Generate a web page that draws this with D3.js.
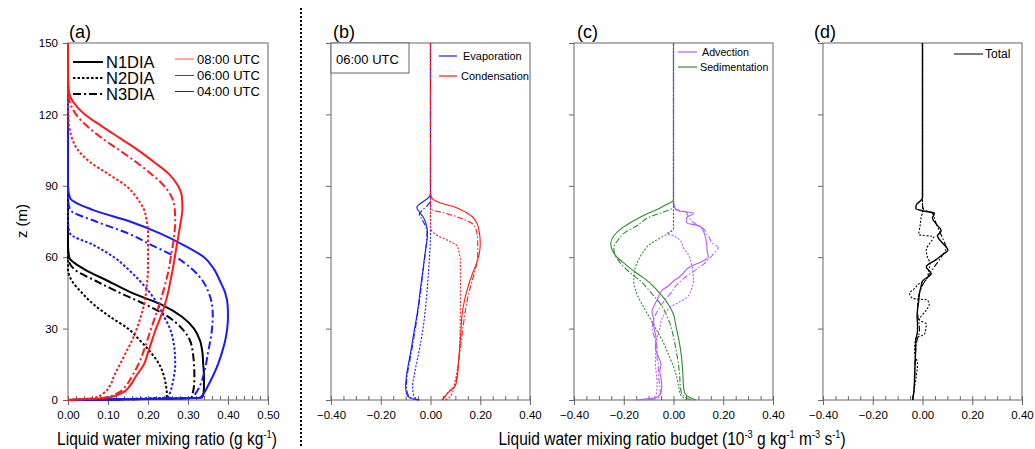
<!DOCTYPE html>
<html>
<head>
<meta charset="utf-8">
<script src="https://cdn.jsdelivr.net/npm/d3@7"></script>
<style>
body{margin:0;background:#fff;}
text{font-family:"Liberation Sans",Arial,sans-serif;fill:#000;}
</style>
</head>
<body>
<svg id="fig" width="1035" height="449"></svg>
<script>
// ---- data ----
// panel (a): liquid water mixing ratio (g/kg) on common heights
var zA = [0, 1, 3, 6, 10, 15, 20, 25, 30, 35, 40, 45, 50, 55, 60, 65, 70, 75, 80, 85, 90, 95, 100, 105, 110, 115, 120, 125, 130, 140, 150];
var lw08N1 = [0, 0.10, 0.135, 0.155, 0.17, 0.19, 0.2, 0.21, 0.22, 0.232, 0.242, 0.25, 0.256, 0.262, 0.267, 0.272, 0.277, 0.282, 0.286, 0.285, 0.275, 0.252, 0.215, 0.175, 0.13, 0.085, 0.042, 0.014, 0.002, 0, 0];
var lw08N2 = [0, 0.068, 0.09, 0.105, 0.115, 0.13, 0.145, 0.16, 0.172, 0.182, 0.19, 0.195, 0.198, 0.2, 0.2, 0.2, 0.2, 0.197, 0.19, 0.172, 0.145, 0.1, 0.055, 0.025, 0.01, 0.003, 0.001, 0, 0, 0, 0];
var lw08N3 = [0, 0.09, 0.125, 0.145, 0.16, 0.176, 0.188, 0.198, 0.208, 0.218, 0.228, 0.237, 0.245, 0.252, 0.257, 0.262, 0.266, 0.268, 0.267, 0.26, 0.24, 0.208, 0.17, 0.128, 0.085, 0.048, 0.02, 0.005, 0, 0, 0];
var lw06N1 = [0, 0.33, 0.34, 0.35, 0.362, 0.375, 0.385, 0.393, 0.398, 0.4, 0.399, 0.393, 0.38, 0.365, 0.34, 0.29, 0.23, 0.155, 0.06, 0.005, 0, 0, 0, 0, 0, 0, 0, 0, 0, 0, 0];
var lw06N2 = [0, 0.248, 0.255, 0.26, 0.265, 0.268, 0.267, 0.263, 0.255, 0.24, 0.225, 0.205, 0.18, 0.15, 0.115, 0.065, 0.005, 0, 0, 0, 0, 0, 0, 0, 0, 0, 0, 0, 0, 0, 0];
var lw06N3 = [0, 0.31, 0.32, 0.33, 0.338, 0.345, 0.35, 0.356, 0.36, 0.362, 0.36, 0.352, 0.337, 0.31, 0.27, 0.21, 0.15, 0.07, 0.005, 0, 0, 0, 0, 0, 0, 0, 0, 0, 0, 0, 0];
var lw04N1 = [0, 0.335, 0.339, 0.34, 0.34, 0.338, 0.336, 0.33, 0.315, 0.285, 0.235, 0.16, 0.1, 0.04, 0.003, 0, 0, 0, 0, 0, 0, 0, 0, 0, 0, 0, 0, 0, 0, 0, 0];
var lw04N2 = [0, 0.247, 0.247, 0.245, 0.24, 0.228, 0.207, 0.18, 0.15, 0.105, 0.065, 0.035, 0.01, 0, 0, 0, 0, 0, 0, 0, 0, 0, 0, 0, 0, 0, 0, 0, 0, 0, 0];
var lw04N3 = [0, 0.308, 0.312, 0.315, 0.316, 0.315, 0.312, 0.305, 0.285, 0.25, 0.195, 0.13, 0.07, 0.015, 0, 0, 0, 0, 0, 0, 0, 0, 0, 0, 0, 0, 0, 0, 0, 0, 0];

// panel (b): [z, value] evaporation / condensation at 06:00 UTC
var evapN1 = [[0,-0.05],[1,-0.085],[3,-0.097],[6,-0.1],[10,-0.097],[15,-0.089],[20,-0.08],[25,-0.072],[30,-0.064],[36,-0.054],[42,-0.046],[48,-0.039],[54,-0.031],[60,-0.024],[65,-0.017],[70,-0.012],[74,-0.018],[77,-0.03],[79,-0.045],[81,-0.055],[83,-0.035],[85,-0.008],[87,0],[150,0]];
var evapN2 = [[0,-0.045],[1,-0.062],[3,-0.07],[6,-0.072],[10,-0.066],[15,-0.057],[20,-0.047],[25,-0.038],[30,-0.03],[36,-0.023],[42,-0.017],[48,-0.012],[54,-0.008],[60,-0.004],[66,-0.001],[70,0],[150,0]];
var evapN3 = [[0,-0.045],[1,-0.08],[3,-0.093],[6,-0.097],[10,-0.094],[15,-0.086],[20,-0.077],[25,-0.069],[30,-0.061],[36,-0.052],[42,-0.044],[48,-0.037],[54,-0.03],[60,-0.023],[65,-0.017],[70,-0.014],[73,-0.02],[76,-0.035],[78,-0.045],[80,-0.03],[82,-0.01],[84,0],[150,0]];
var condN1 = [[0,0.047],[1,0.055],[3,0.07],[6,0.1],[10,0.108],[15,0.112],[20,0.116],[25,0.12],[30,0.123],[36,0.127],[42,0.137],[48,0.152],[54,0.172],[58,0.187],[62,0.197],[66,0.2],[70,0.197],[74,0.188],[77,0.168],[79,0.14],[81,0.1],[83,0.035],[85,0.005],[87,0],[150,0]];
var condN2 = [[0,0.06],[1,0.075],[3,0.088],[6,0.095],[10,0.103],[15,0.112],[20,0.116],[25,0.118],[30,0.119],[36,0.12],[42,0.12],[48,0.12],[54,0.12],[58,0.12],[62,0.115],[65,0.105],[67,0.07],[69,0.03],[71,0.005],[73,0],[150,0]];
var condN3 = [[0,0.047],[1,0.055],[3,0.068],[6,0.098],[10,0.106],[15,0.112],[20,0.118],[25,0.124],[30,0.13],[36,0.138],[42,0.148],[48,0.162],[54,0.178],[58,0.187],[62,0.19],[66,0.19],[70,0.187],[74,0.17],[76,0.13],[78.5,0.06],[80,0.005],[82,0],[150,0]];

// panel (c): advection / sedimentation
var advN1 = [[0,-0.146],[1,-0.07],[3,-0.05],[6,-0.047],[9,-0.05],[12,-0.055],[15,-0.05],[18,-0.06],[22,-0.073],[26,-0.07],[30,-0.078],[34,-0.08],[37,-0.086],[42,-0.066],[46,-0.047],[48,-0.02],[50,0],[52,0.027],[56,0.067],[58,0.11],[60,0.14],[63,0.135],[66,0.133],[69,0.127],[71,0.12],[73,0.107],[74.5,0.053],[76.5,0.053],[78.5,0.08],[79.5,0.02],[81,0.005],[84,0],[150,0]];
var advN2 = [[0,-0.12],[1,-0.08],[3,-0.068],[6,-0.066],[10,-0.068],[14,-0.072],[17,-0.073],[21,-0.07],[26,-0.066],[30,-0.055],[34,-0.047],[37,-0.03],[39,-0.013],[41,0.02],[43,0.053],[46,0.07],[50,0.08],[54,0.078],[58,0.07],[61,0.06],[64,0.04],[67,0.027],[69,0],[70,-0.027],[71,-0.01],[72,0],[150,0]];
var advN3 = [[0,-0.093],[1,-0.06],[3,-0.053],[6,-0.055],[10,-0.06],[14,-0.06],[18,-0.066],[22,-0.066],[26,-0.075],[30,-0.086],[34,-0.08],[38,-0.06],[42,-0.035],[45,-0.01],[48,0.01],[51,0.04],[54,0.08],[57,0.12],[60,0.15],[62,0.165],[64,0.18],[66,0.155],[68,0.145],[70,0.133],[72,0.12],[74.6,0.08],[77,0.06],[79,0.05],[80,0.01],[82,0],[150,0]];
var sedN1 = [[0,0.09],[1,0.065],[3,0.045],[6,0.04],[10,0.038],[15,0.035],[20,0.03],[26,0.02],[31,0.01],[36,0],[40,-0.02],[43,-0.04],[46,-0.065],[49,-0.093],[52,-0.13],[55,-0.17],[58,-0.205],[61,-0.235],[64,-0.25],[66,-0.252],[69,-0.24],[72,-0.21],[75,-0.165],[78,-0.11],[80,-0.066],[82,-0.03],[84,0],[150,0]];
var sedN2 = [[0,0.055],[1,0.04],[3,0.025],[6,0.02],[10,0.012],[14,0],[19,-0.02],[24,-0.04],[29,-0.066],[34,-0.093],[39,-0.12],[44,-0.145],[50,-0.16],[54,-0.157],[58,-0.145],[62,-0.123],[65,-0.1],[68,-0.055],[70,-0.02],[72,0],[150,0]];
var sedN3 = [[0,0.07],[1,0.05],[3,0.032],[6,0.027],[10,0.025],[15,0.02],[20,0.012],[25,0.003],[30,-0.008],[35,-0.025],[40,-0.05],[45,-0.09],[50,-0.133],[54,-0.18],[57.5,-0.213],[61,-0.235],[64,-0.24],[67,-0.225],[70,-0.2],[73,-0.15],[77,-0.093],[79,-0.04],[81,0],[150,0]];

// panel (d): total
var totN1 = [[0,-0.04],[3,-0.035],[6,-0.033],[10,-0.032],[15,-0.03],[20,-0.028],[25,-0.027],[29,-0.02],[32,-0.02],[35,-0.022],[38,-0.02],[42,-0.015],[45,-0.012],[48,-0.005],[50,0],[53,0.035],[56,0.015],[59,0.055],[61,0.08],[63,0.102],[66,0.08],[69,0.06],[71,0.075],[74,0.055],[76.5,0.04],[78.5,0.048],[79.5,0],[80.5,-0.027],[82,-0.025],[83.5,-0.01],[85,0],[150,0]];
var totN2 = [[0,-0.04],[5,-0.033],[10,-0.025],[15.5,-0.02],[18,-0.028],[21,-0.032],[26,-0.027],[27.6,0.008],[32,0.015],[33.6,-0.012],[37.8,0.015],[40,0.027],[42,0.02],[42.7,-0.04],[44.8,-0.052],[47,-0.03],[49,-0.012],[50.4,0.015],[54,0.025],[57.5,0.03],[60,0.02],[63,0.015],[66,0.03],[68.6,0.045],[69.5,-0.015],[73,-0.01],[77,-0.005],[79,0],[150,0]];
var totN3 = [[0,-0.04],[5,-0.033],[10,-0.031],[15,-0.03],[20,-0.028],[25,-0.022],[29,-0.012],[33,-0.015],[37,-0.02],[42,-0.018],[47,-0.005],[52,0.022],[56,0.048],[60,0.075],[64,0.095],[67,0.085],[71,0.068],[74,0.055],[78.5,0.04],[80,0.005],[82,0],[150,0]];

var zTicks = [0, 30, 60, 90, 120, 150];
var aTicks = [0, 0.1, 0.2, 0.3, 0.4, 0.5];
var bTicks = [-0.4, -0.2, 0, 0.2, 0.4];
var runNames = ["N1DIA", "N2DIA", "N3DIA"];
var timeNames = ["08:00 UTC", "06:00 UTC", "04:00 UTC"];

// ---- style ----
var frameColor = "#666666";
var dashes = {N1: null, N2: "2.5,2", N3: "8,3,2,3"};
var dashesThin = {N1: null, N2: "2,1.6", N3: "6,2,1.5,2"};
var cRed = "#ff1a1a", cBlue = "#1a1aff", cBlack = "#000000";
var cViolet = "#b25cff", cGreen = "#2f8a2f";

var svg = d3.select("#fig");
var plotTop = 43, plotBottom = 400;
var y = d3.scaleLinear().domain([0, 150]).range([plotBottom, plotTop]);

function drawPanel(x0, x1, domain, majors, minorStep, showYLabels, label, labelX){
    var x = d3.scaleLinear().domain(domain).range([x0, x1]);
    var g = svg.append("g");
    // minor ticks inside
    var minors = d3.range(domain[0], domain[1] + minorStep/2, minorStep);
    g.append("g").attr("transform", "translate(0," + plotBottom + ")")
        .call(d3.axisBottom(x).tickValues(minors).tickSize(-4).tickFormat(""))
        .call(function(s){ s.select(".domain").remove(); s.selectAll("line").attr("stroke", frameColor); });
    var xa = g.append("g").attr("transform", "translate(0," + plotBottom + ")")
        .call(d3.axisBottom(x).tickValues(majors).tickSize(5).tickSizeOuter(0).tickPadding(6).tickFormat(d3.format(".2f")));
    xa.select(".domain").remove();
    xa.selectAll("line").attr("stroke", frameColor);
    xa.selectAll("text").attr("font-size", "11.5px").attr("font-family", "Liberation Sans, Arial, sans-serif");
    var ya = g.append("g").attr("transform", "translate(" + x0 + ",0)")
        .call(d3.axisLeft(y).tickValues(zTicks).tickSize(5).tickSizeOuter(0).tickPadding(5)
            .tickFormat(showYLabels ? d3.format("d") : ""));
    ya.select(".domain").remove();
    ya.selectAll("line").attr("stroke", frameColor);
    ya.selectAll("text").attr("font-size", "11.5px").attr("font-family", "Liberation Sans, Arial, sans-serif");
    g.append("rect").attr("x", x0).attr("y", plotTop).attr("width", x1 - x0).attr("height", plotBottom - plotTop)
        .attr("fill", "none").attr("stroke", frameColor).attr("stroke-width", 1);
    svg.append("text").attr("x", labelX).attr("y", 38).attr("font-size", "18px").text(label);
    return x;
}

function profile(x, pts, color, dash, width){
    var line = d3.line()
        .x(function(d){ return x(d[1]); })
        .y(function(d){ return y(d[0]); })
        .curve(d3.curveMonotoneY);
    svg.append("path").datum(pts)
        .attr("d", line)
        .attr("fill", "none")
        .attr("stroke", color)
        .attr("stroke-width", width)
        .attr("stroke-dasharray", dash);
}

function zip(vals){
    return zA.map(function(z, i){ return [z, vals[i]]; });
}

// panel a
var xa = drawPanel(68, 268, [0, 0.5], aTicks, 0.02, true, "(a)", 69);
profile(xa, zip(lw04N2), cBlack, dashes.N2, 2);
profile(xa, zip(lw04N3), cBlack, dashes.N3, 2);
profile(xa, zip(lw04N1), cBlack, dashes.N1, 2);
profile(xa, zip(lw06N2), cBlue, dashes.N2, 2);
profile(xa, zip(lw06N3), cBlue, dashes.N3, 2);
profile(xa, zip(lw06N1), cBlue, dashes.N1, 2);
profile(xa, zip(lw08N2), cRed, dashes.N2, 2);
profile(xa, zip(lw08N3), cRed, dashes.N3, 2);
profile(xa, zip(lw08N1), cRed, dashes.N1, 2);

// panel b
var xb = drawPanel(331, 530, [-0.4, 0.4], bTicks, 0.05, false, "(b)", 333);
profile(xb, condN1, cRed, dashesThin.N1, 1.1);
profile(xb, evapN1, cBlue, dashesThin.N1, 1.1);
profile(xb, evapN3, cBlue, dashesThin.N3, 1.1);
profile(xb, condN3, cRed, dashesThin.N3, 1.1);
profile(xb, evapN2, cBlue, dashesThin.N2, 1.1);
profile(xb, condN2, cRed, dashesThin.N2, 1.1);

// panel c
var xc = drawPanel(574, 773, [-0.4, 0.4], bTicks, 0.05, false, "(c)", 577);
profile(xc, sedN1, cGreen, dashesThin.N1, 1.1);
profile(xc, advN1, cViolet, dashesThin.N1, 1.1);
profile(xc, advN3, cViolet, dashesThin.N3, 1.1);
profile(xc, sedN3, cGreen, dashesThin.N3, 1.1);
profile(xc, advN2, cViolet, dashesThin.N2, 1.1);
profile(xc, sedN2, cGreen, dashesThin.N2, 1.1);

// panel d
var xd = drawPanel(823, 1022, [-0.4, 0.4], bTicks, 0.05, false, "(d)", 814);
profile(xd, totN2, cBlack, dashesThin.N2, 1.1);
profile(xd, totN3, cBlack, dashesThin.N3, 1.1);
profile(xd, totN1, cBlack, dashesThin.N1, 1.4);

// legends panel a
var runY = [62, 78, 94];
runNames.forEach(function(n, i){
    svg.append("line").attr("x1", 73).attr("x2", 103).attr("y1", runY[i]).attr("y2", runY[i])
        .attr("stroke", "#000").attr("stroke-width", 2).attr("stroke-dasharray", dashes["N" + (i+1)]);
    svg.append("text").attr("x", 106).attr("y", runY[i] + 6).attr("font-size", "16.5px").text(n);
});
var timeY = [59, 75.5, 91.5];
var timeCol = ["#ff4d4d", "#3333ff", "#333"];
timeNames.forEach(function(n, i){
    svg.append("line").attr("x1", 175).attr("x2", 194).attr("y1", timeY[i]).attr("y2", timeY[i])
        .attr("stroke", timeCol[i]).attr("stroke-width", 1);
    svg.append("text").attr("x", 197).attr("y", timeY[i] + 4.5).attr("font-size", "13px").text(n);
});

// panel b box and legend
svg.append("rect").attr("x", 331).attr("y", 43).attr("width", 78).attr("height", 30)
    .attr("fill", "#fff").attr("stroke", frameColor);
svg.append("text").attr("x", 336).attr("y", 64).attr("font-size", "13px").text("06:00 UTC");

function legendItem(x1, x2, yy, color, tx, label, size){
    svg.append("line").attr("x1", x1).attr("x2", x2).attr("y1", yy).attr("y2", yy)
        .attr("stroke", color).attr("stroke-width", 1.2);
    svg.append("text").attr("x", tx).attr("y", yy + 4).attr("font-size", size).text(label);
}
legendItem(439, 457, 56, cBlue, 463, "Evaporation", "11px");
legendItem(439, 457, 76, cRed, 461, "Condensation", "11px");
legendItem(678, 697, 52, cViolet, 702, "Advection", "10.7px");
legendItem(678, 697, 67, cGreen, 700, "Sedimentation", "10.7px");
legendItem(954, 983, 54, "#222", 985, "Total", "12px");

// axis titles (narrow look via horizontal squeeze)
svg.append("text").attr("transform", "translate(27,221) rotate(-90)")
    .attr("text-anchor", "middle").attr("font-size", "15px").text("z (m)");

var t1 = svg.append("text").attr("transform", "translate(167,445) scale(0.84,1)")
    .attr("text-anchor", "middle").attr("font-size", "18.5px");
t1.append("tspan").text("Liquid water mixing ratio (g kg");
t1.append("tspan").attr("font-size", "11px").attr("dy", -7).text("-1");
t1.append("tspan").attr("dy", 7).text(")");

var t2 = svg.append("text").attr("transform", "translate(672,445) scale(0.84,1)")
    .attr("text-anchor", "middle").attr("font-size", "18.5px");
t2.append("tspan").text("Liquid water mixing ratio budget (10");
t2.append("tspan").attr("font-size", "11px").attr("dy", -7).text("-3");
t2.append("tspan").attr("dy", 7).text(" g kg");
t2.append("tspan").attr("font-size", "11px").attr("dy", -7).text("-1");
t2.append("tspan").attr("dy", 7).text(" m");
t2.append("tspan").attr("font-size", "11px").attr("dy", -7).text("-3");
t2.append("tspan").attr("dy", 7).text(" s");
t2.append("tspan").attr("font-size", "11px").attr("dy", -7).text("-1");
t2.append("tspan").attr("dy", 7).text(")");

// dotted separator
svg.append("line").attr("x1", 301).attr("x2", 301).attr("y1", 8).attr("y2", 446)
    .attr("stroke", "#000").attr("stroke-width", 2).attr("stroke-dasharray", "2,2");
</script>
</body>
</html>
